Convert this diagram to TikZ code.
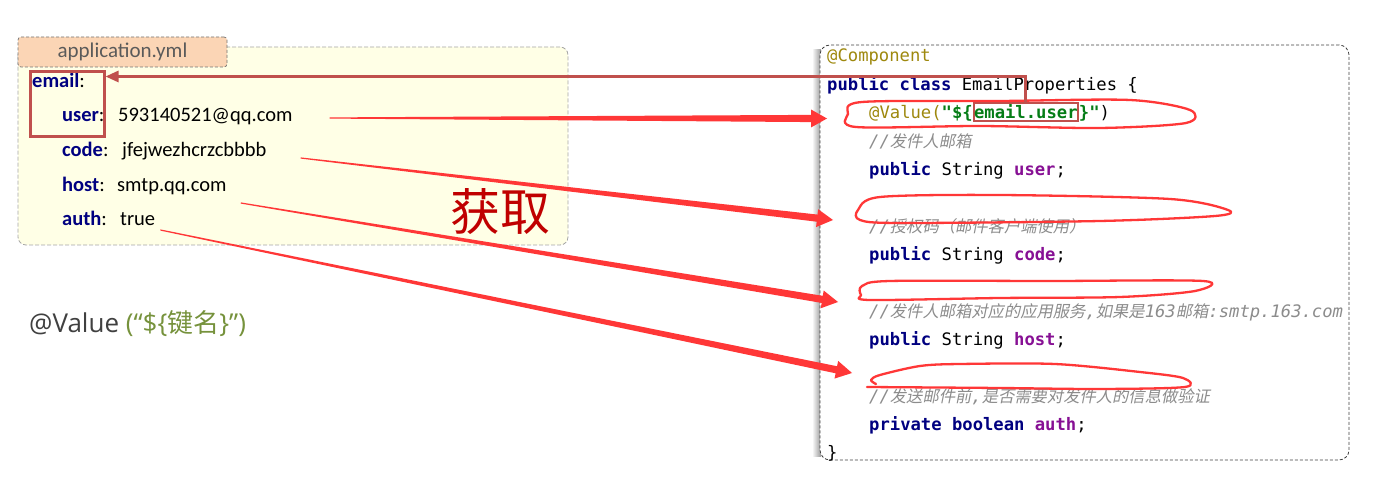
\documentclass[tikz,border=0pt]{standalone}
\usepackage{fontspec}
\usetikzlibrary{positioning,calc,arrows.meta}
\setmainfont{Carlito}
\newfontfamily\codefont{DejaVu Sans Mono}
\newfontfamily\cjk{Noto Sans CJK SC}
\newfontfamily\cjkit[FakeSlant=0.2]{Noto Sans CJK SC}
\newfontfamily\notefont{Open Sans}
\definecolor{KeyBlue}{RGB}{0,0,128}
\definecolor{BoxRed}{RGB}{192,80,77}
\definecolor{HandRed}{RGB}{255,55,55}
\definecolor{YmlYellow}{RGB}{255,255,230}
\definecolor{TabPeach}{RGB}{251,213,181}
\definecolor{DashGray}{RGB}{165,165,165}
\definecolor{TabText}{RGB}{90,90,90}
\definecolor{AnnoOlive}{RGB}{158,136,13}
\definecolor{StrGreen}{RGB}{6,125,23}
\definecolor{FieldPurple}{RGB}{135,16,148}
\definecolor{CmtGray}{RGB}{140,140,140}
\definecolor{FetchRed}{RGB}{192,0,0}
\definecolor{NoteGray}{RGB}{64,64,64}
\definecolor{NoteGreen}{RGB}{118,146,60}
\tikzset{
  ymlbox/.style={draw=DashGray,fill=YmlYellow,dash pattern=on 4pt off 2pt,rounded corners=8pt,line width=0.8pt},
  tabbox/.style={draw=black!55,fill=TabPeach,dash pattern=on 3pt off 2pt,rounded corners=3pt,line width=0.7pt,
    text=TabText,font=\fontsize{21}{21}\selectfont},
  codebox/.style={draw=black!75,fill=white,dash pattern=on 3pt off 2pt,rounded corners=10pt,line width=0.8pt},
  ykey/.style={anchor=base west,inner sep=0pt,font=\fontsize{20.5}{20.5}\selectfont},
  yval/.style={anchor=base west,inner sep=0pt,font=\fontsize{20.5}{20.5}\selectfont},
  codeline/.style={anchor=base west,inner sep=0pt,font=\codefont\fontsize{17.2}{17.2}\selectfont},
  keybox/.style={draw=BoxRed,line width=3pt},
  keylink/.style={draw=BoxRed,line width=2.8pt,-{Triangle[length=13pt,width=11pt]}},
  scribble/.style={draw=HandRed,line width=2.3pt,line cap=round,line join=round},
}
\newcommand{\kwd}[1]{{\bfseries\color{KeyBlue}#1}}
\newcommand{\fld}[1]{{\bfseries\color{FieldPurple}#1}}
\newcommand{\zh}[1]{{\cjkit\fontsize{16.3}{16.3}\selectfont #1}}
\newcommand{\cmnt}[1]{{\color{CmtGray}\itshape #1}}
\newcommand{\ymlkey}[1]{{\bfseries\color{KeyBlue}#1}:}
% tapered hand-drawn arrow from #1 to #2
\newcommand{\handarrow}[2]{%
  \coordinate (hb) at ($(#2)!16pt!(#1)$);
  \fill[HandRed] ($(#1)!0.6pt!90:(#2)$) -- ($(hb)!3.6pt!90:(#2)$) -- ($(hb)!9pt!90:(#2)$) -- (#2)
    -- ($(hb)!9pt!-90:(#2)$) -- ($(hb)!3.6pt!-90:(#2)$) -- ($(#1)!0.6pt!-90:(#2)$) -- cycle;}

\begin{document}
\begin{tikzpicture}[x=1pt,y=-1pt]
\useasboundingbox (0,0) rectangle (1395,502);

% yml file
\node[ymlbox,minimum width=550,minimum height=198] (yml) at (293,146) {};
\node[tabbox,minimum width=209,minimum height=30,inner sep=0pt] (tab) at (122.5,52) {application.yml};
\node[ykey] (kemail) at (32,88) {\ymlkey{email}};
\node[ykey] (kuser) at (62,122) {\ymlkey{user}};
\node[yval] (vuser) at (118,122) {593140521@qq.com};
\node[ykey] (kcode) at (62,157) {\ymlkey{code}};
\node[yval] (vcode) at (122,157) {jfejwezhcrzcbbbb};
\node[ykey] (khost) at (62,192) {\ymlkey{host}};
\node[yval] (vhost) at (117,192) {smtp.qq.com};
\node[ykey] (kauth) at (62,226) {\ymlkey{auth}};
\node[yval] (vauth) at (120,226) {true};
\node[keybox,minimum width=74,minimum height=65] (ymlkey) at (67,104.5) {};

\node[font=\cjk\fontsize{50}{50}\selectfont,text=FetchRed] (fetch) at (500,212) {获取};
\node[anchor=base west,inner sep=0pt,font=\notefont\fontsize{26}{26}\selectfont] (usage) at (29,333)
  {{\color{NoteGray}@Value} {\color{NoteGreen}(“\$\{{\cjk 键名}\}”)}};

% java class
\shade[left color=white,right color=black!40] (812,50) rectangle (821,456);
\node[codebox,minimum width=529,minimum height=415] (code) at (1084.5,252.5) {};
\node[codeline] (c0) at (827,62) {\color{AnnoOlive}@Component};
\node[codeline] (c1) at (827,90.35) {\kwd{public class} EmailProperties \{};
\node[codeline] (c2a) at (869,118.7) {{\color{AnnoOlive}@Value(}{\bfseries\color{StrGreen}"\$\{}};
\node[codeline,keybox,line width=2.2pt,inner xsep=0pt,inner ysep=2pt] (valkey) at (c2a.base east) {\bfseries\color{StrGreen}email.user};
\node[codeline] (c2c) at (valkey.base east) {{\bfseries\color{StrGreen}\}"})};
\node[codeline] (c3) at (869,147.05) {\cmnt{//\zh{发件人邮箱}}};
\node[codeline] (c4) at (869,175.4) {\kwd{public} String \fld{user};};
\node[codeline] (c6) at (869,232.1) {\cmnt{//\zh{授权码（邮件客户端使用）}}};
\node[codeline] (c7) at (869,260.45) {\kwd{public} String \fld{code};};
\node[codeline] (c9) at (869,317.15) {\cmnt{//\zh{发件人邮箱对应的应用服务},\zh{如果是}163\zh{邮箱}:smtp.163.com}};
\node[codeline] (c10) at (869,345.5) {\kwd{public} String \fld{host};};
\node[codeline] (c12) at (869,402.2) {\cmnt{//\zh{发送邮件前},\zh{是否需要对发件人的信息做验证}}};
\node[codeline] (c13) at (869,430.55) {\kwd{private boolean} \fld{auth};};
\node[codeline] (c14) at (827,458.9) {\}};

% hand-drawn marks
\draw[scribble] plot[smooth cycle] coordinates {(848,114) (862,102) (1000,101) (1130,100) (1190,110) (1186,123) (1100,128) (980,126) (856,127)};
\draw[scribble] plot[smooth cycle] coordinates {(858,210) (880,197) (1000,195) (1170,199) (1228,210) (1215,216) (1100,221) (900,223) (860,220)};
\draw[scribble] plot[smooth cycle] coordinates {(862,286) (890,281) (1050,281) (1203,281) (1195,291) (1120,297) (1000,298) (870,300) (861,295)};
\draw[scribble] plot[smooth] coordinates {(876,384) (871,380) (880,375) (920,366) (960,364) (1055,364) (1140,372) (1183,378) (1185,387) (1100,389) (1000,388) (867,387)};

\coordinate (t1) at (827,118.5);
\coordinate (t2) at (833,220);
\coordinate (t3) at (838,302);
\coordinate (t4) at (852,373);
\coordinate (s1) at ($(vuser.base east)+(37,-4)$);
\coordinate (s2) at ($(vcode.base east)+(34,1)$);
\coordinate (s3) at ($(vhost.base east)+(14,11)$);
\coordinate (s4) at ($(vauth.base east)+(5,4)$);
\handarrow{s1}{t1}
\handarrow{s2}{t2}
\handarrow{s3}{t3}
\handarrow{s4}{t4}

\draw[keylink] (valkey.north) |- ($(ymlkey.north east)+(0,6)$);
\end{tikzpicture}
\end{document}
